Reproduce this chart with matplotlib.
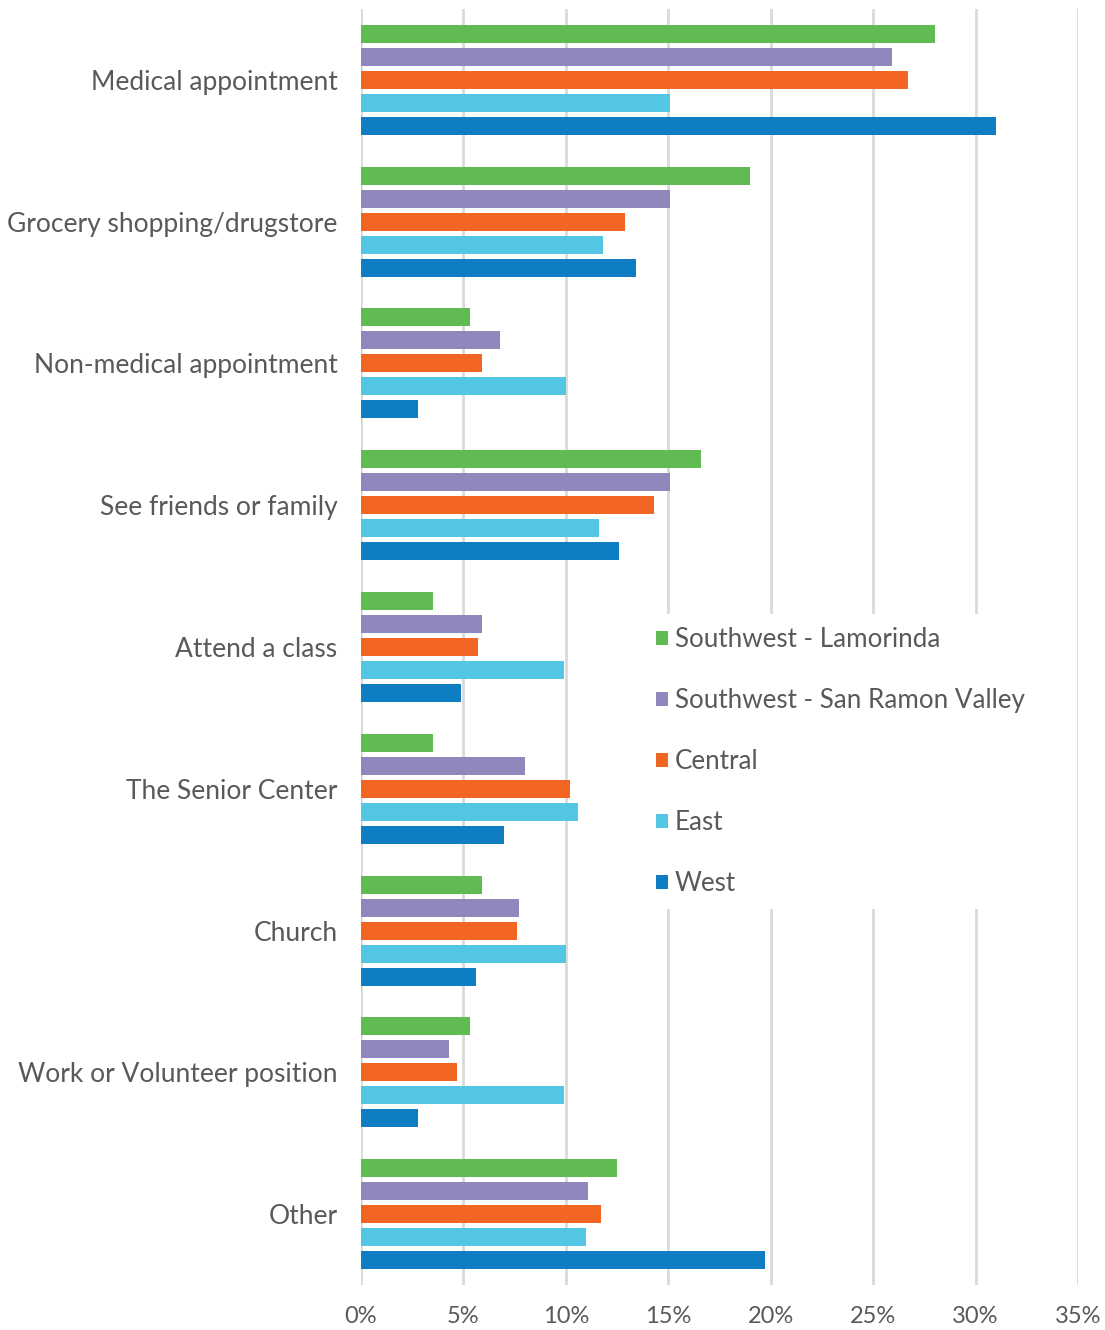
import matplotlib
matplotlib.use("Agg")
import matplotlib.pyplot as plt
import numpy as np
from matplotlib.patches import Patch

categories = ["Medical appointment", "Grocery shopping/drugstore", "Non-medical appointment",
              "See friends or family", "Attend a class", "The Senior Center", "Church",
              "Work or Volunteer position", "Other"]
series_names = ["Southwest - Lamorinda", "Southwest - San Ramon Valley", "Central", "East", "West"]
lamorinda = [28.0, 19.0, 5.3, 16.6, 3.5, 3.5, 5.9, 5.3, 12.5]
san_ramon = [25.9, 15.1, 6.8, 15.1, 5.9, 8.0, 7.7, 4.3, 11.1]
central = [26.7, 12.9, 5.9, 14.3, 5.7, 10.2, 7.6, 4.7, 11.7]
east = [15.1, 11.8, 10.0, 11.6, 9.9, 10.6, 10.0, 9.9, 11.0]
west = [31.0, 13.4, 2.8, 12.6, 4.9, 7.0, 5.6, 2.8, 19.7]
xticks = [0, 5, 10, 15, 20, 25, 30, 35]

colors = ["#61BB53", "#8E88BD", "#F26522", "#52C6E2", "#0F7DC2"]
text_color = "#595959"
font = "Lato"

fig = plt.figure(figsize=(11.05, 13.3), dpi=100)
ax = fig.add_axes([361/1105, 1 - 1285/1330, (1078-361)/1105, (1285-9)/1330])

data = [lamorinda, san_ramon, central, east, west]
y = np.arange(len(categories))
step = 23/141.8
h = 18/141.8
for j, (vals, c, name) in enumerate(zip(data, colors, series_names)):
    ax.barh(y + (j - 2) * step, vals, height=h, color=c, label=name, zorder=3)

ax.set_xlim(0, 35)
ax.set_ylim(len(categories) - 0.5, -0.5)
ax.set_xticks(xticks)
ax.set_xticklabels([f"{t}%" for t in xticks], fontsize=17, color=text_color, family=font)
ax.set_yticks(y)
ax.set_yticklabels(categories, fontsize=19, color=text_color, family=font)
ax.tick_params(axis='both', length=0)
ax.tick_params(axis='x', pad=15)
ax.tick_params(axis='y', pad=17)
for s in ax.spines.values():
    s.set_visible(False)
ax.xaxis.grid(True, color="#D9D9D9", linewidth=2, zorder=0)
ax.set_axisbelow(True)

handles = [Patch(facecolor=c, edgecolor='none') for c in colors]
leg = ax.legend(handles, series_names, loc='upper left', bbox_to_anchor=(630/1105, 1 - 601/1330),
                bbox_transform=fig.transFigure, frameon=True, facecolor='white', edgecolor='none',
                framealpha=1, labelspacing=1.39, handlelength=0.45, handleheight=0.45,
                handletextpad=0.27, borderpad=0.5, prop={'family': font, 'size': 18.7})
for t in leg.get_texts():
    t.set_color(text_color)
leg.set_zorder(5)

fig.savefig("out.png", dpi=100, facecolor="white")
